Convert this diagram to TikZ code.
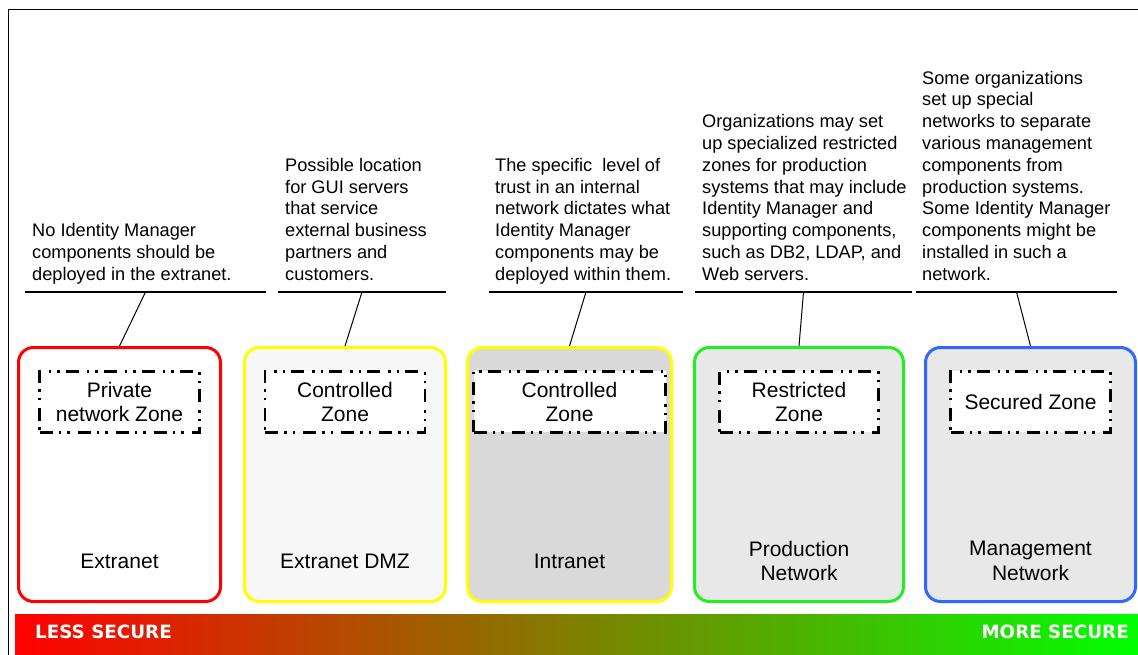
\documentclass[tikz,border=0pt]{standalone}
\usepackage{fontspec}
\setmainfont{Liberation Sans}
\newfontfamily\barfont{DejaVu Sans}
\usetikzlibrary{positioning}

\definecolor{netred}{RGB}{255,0,0}
\definecolor{netyellow}{RGB}{255,255,0}
\definecolor{netgreen}{RGB}{34,238,34}
\definecolor{netblue}{RGB}{51,102,255}
\definecolor{dmzgray}{RGB}{247,247,247}
\definecolor{intragray}{RGB}{217,217,217}
\definecolor{prodgray}{RGB}{232,232,232}
\definecolor{barmid}{RGB}{150,105,0}
\definecolor{bargreen}{RGB}{0,255,0}

\tikzset{
  netbox/.style={draw=#1, line width=3pt, rounded corners=15pt, minimum height=254pt, inner sep=0pt},
  zonebox/.style={draw=black, fill=white, line width=2.5pt, minimum height=61pt, inner sep=0pt, align=center,
    dash pattern=on 13pt off 6pt on 2.5pt off 6pt on 2.5pt off 8pt, font=\fontsize{21}{24.3}\selectfont},
  netlabel/.style={align=center, inner sep=0pt, font=\fontsize{21}{24.3}\selectfont},
  note/.style={anchor=south west, inner sep=0pt, align=left, font=\fontsize{18.2}{21.8}\selectfont,
    execute at end node=\strut},
  rule/.style={line width=1.5pt},
  leader/.style={line width=1pt},
  secure/.style={text=white, inner sep=0pt, font=\barfont\bfseries\fontsize{18.3}{20}\selectfont}
}

\begin{document}
\begin{tikzpicture}[x=1pt,y=-1pt]
  \useasboundingbox (0,0) rectangle (1138,655);
  % frame
  \draw[line width=1pt] (1138,10) -- (8,10) -- (8,655);

  % networks and their zones
  \foreach \n/\cx/\w/\col/\fil/\zw/\zone/\lab in {
      ext/119.5/202/netred/white/160/{Private\\network Zone}/{Extranet},
      dmz/345/201/netyellow/dmzgray/160/{Controlled\\Zone}/{Extranet DMZ},
      intra/569.5/204/netyellow/intragray/192/{Controlled\\Zone}/{Intranet},
      prod/799/209/netgreen/prodgray/159/{Restricted\\Zone}/{Production\\Network},
      mgmt/1030.5/210/netblue/prodgray/160/{Secured Zone}/{Management\\Network}} {
    \node[netbox=\col, fill=\fil, minimum width=\w pt] (\n) at (\cx,474.5) {};
    \node[zonebox, minimum width=\zw pt, below=24pt of \n.north] (\n-zone) {\zone};
    \node[netlabel] (\n-lab) at ([yshift=42pt]\n.south) {\lab};
  }

  % notes
  \node[note] (ext-note) at (32,287) {No Identity Manager\\components should be\\deployed in the extranet.};
  \node[note] (dmz-note) at (285,287) {Possible location\\for GUI servers\\that service\\external business\\partners and\\customers.};
  \node[note] (intra-note) at (495,287) {The specific\ \ level of\\trust in an internal\\network dictates what\\Identity Manager\\components may be\\deployed within them.};
  \node[note] (prod-note) at (702,287) {Organizations may set\\up specialized restricted\\zones for production\\systems that may include\\Identity Manager and\\supporting components,\\such as DB2, LDAP, and\\Web servers.};
  \node[note] (mgmt-note) at (922,287) {Some organizations\\set up special\\networks to separate\\various management\\components from\\production systems.\\Some Identity Manager\\components might be\\installed in such a\\network.};

  % rules under the notes
  \draw[rule] (25,292) -- coordinate[midway] (ext-r) (266,292);
  \draw[rule] (278,292) -- coordinate[midway] (dmz-r) (446,292);
  \draw[rule] (489,292) -- coordinate[midway] (intra-r) (683,292);
  \draw[rule] (695,292) -- coordinate[midway] (prod-r) (912,292);
  \draw[rule] (916,292) -- coordinate[midway] (mgmt-r) (1117,292);

  \foreach \n in {ext,dmz,intra,prod,mgmt}
    \draw[leader] (\n-r) -- (\n.north);

  % security bar
  \shade[left color=netred, middle color=barmid, right color=bargreen] (15,614) rectangle (1138,655);
  \node[secure, anchor=west] (less) at (35,632) {LESS SECURE};
  \node[secure, anchor=east] (more) at (1129,632) {MORE SECURE};
\end{tikzpicture}
\end{document}
